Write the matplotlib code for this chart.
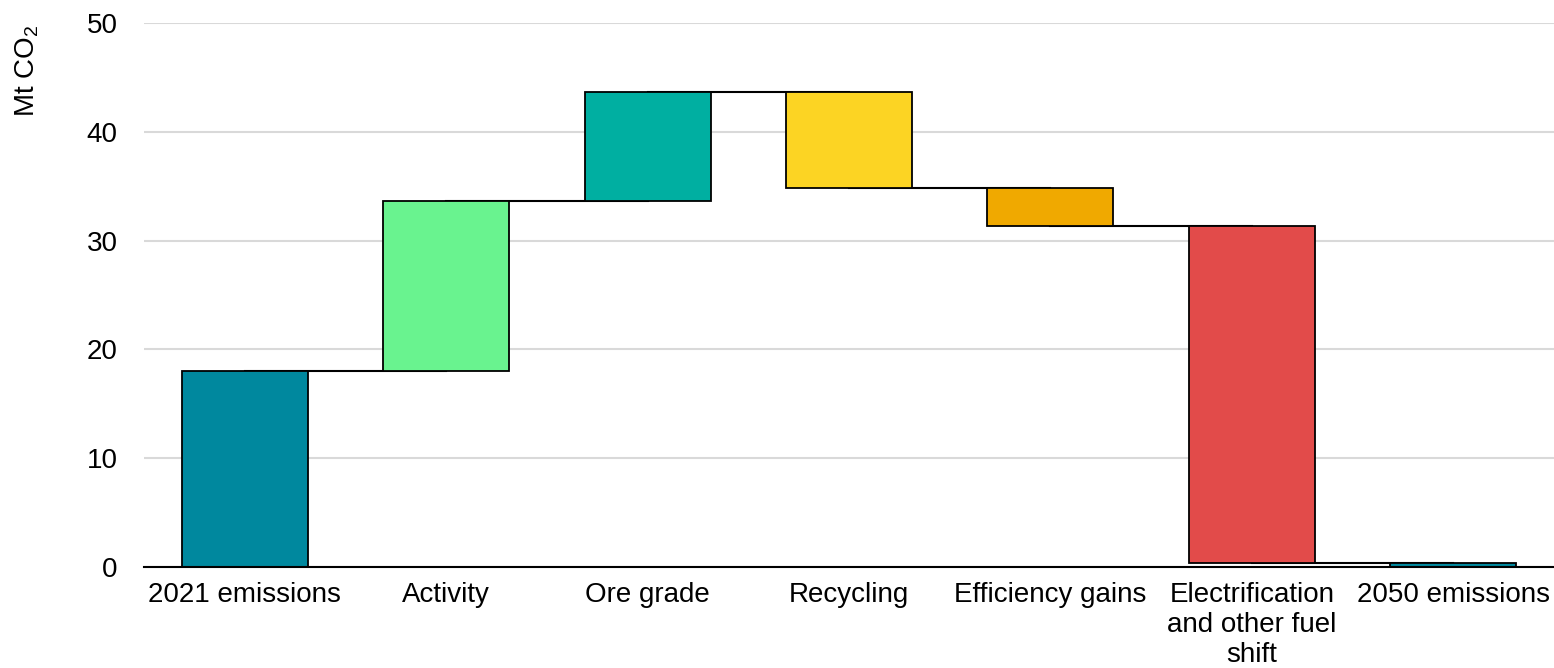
import matplotlib
matplotlib.use("Agg")
import matplotlib.pyplot as plt
import numpy as np

plt.rcParams['font.family'] = ['Liberation Sans', 'DejaVu Sans']
plt.rcParams['mathtext.default'] = 'regular'

categories = ["2021 emissions", "Activity", "Ore grade", "Recycling",
              "Efficiency gains", "Electrification\nand other fuel\nshift", "2050 emissions"]
# Start total, then the changes between 2021 and 2050
start_total = 18.0
changes = [15.6, 10.1, -8.9, -3.5, -30.9]
colors = ["#00889E", "#69F38F", "#00AFA1", "#FCD423", "#F0A900", "#E24B4A", "#00889E"]
yticks = [0, 10, 20, 30, 40, 50]

# Build bottoms/heights for the waterfall
levels = [start_total]
for c in changes:
    levels.append(levels[-1] + c)
end_total = levels[-1]

bottoms = [0.0]
heights = [start_total]
for i, c in enumerate(changes):
    bottoms.append(min(levels[i], levels[i + 1]))
    heights.append(abs(c))
bottoms.append(0.0)
heights.append(end_total)

# running level after each bar (used for connectors)
conn_levels = levels + [end_total]

W, H = 1554, 668
fig = plt.figure(figsize=(W / 100, H / 100), dpi=100)
ax = fig.add_axes([144 / W, 1 - 567 / H, (W - 144) / W, (567 - 23) / H])

x = np.arange(len(categories))
ax.set_axisbelow(True)
ax.yaxis.grid(True, color="#d9d9d9", linewidth=1.5)

# connectors from the centre of one bar to the centre of the next
for i in range(len(categories) - 1):
    ax.plot([x[i], x[i + 1]], [conn_levels[i], conn_levels[i]], color="black",
            linewidth=1.5, zorder=1.5)

ax.bar(x, heights, bottom=bottoms, width=0.625, color=colors,
       edgecolor="black", linewidth=1.3, zorder=2)

ax.set_xlim(-0.5, len(categories) - 0.5)
ax.set_ylim(0, 50)
ax.set_yticks(yticks)
ax.set_xticks(x)
ax.set_xticklabels(categories, fontsize=20, linespacing=1.2)
ax.tick_params(axis='y', labelsize=20, length=0, pad=19)
ax.tick_params(axis='x', length=0, pad=11)

for s in ["top", "right", "left"]:
    ax.spines[s].set_visible(False)
ax.spines["bottom"].set_color("black")
ax.spines["bottom"].set_linewidth(1.5)

ax.set_ylabel("Mt CO$_2$", fontsize=20)
ax.yaxis.set_label_coords((41 - 144) / (W - 144), (567 - 71) / 544)

fig.savefig("out.png", dpi=100)
